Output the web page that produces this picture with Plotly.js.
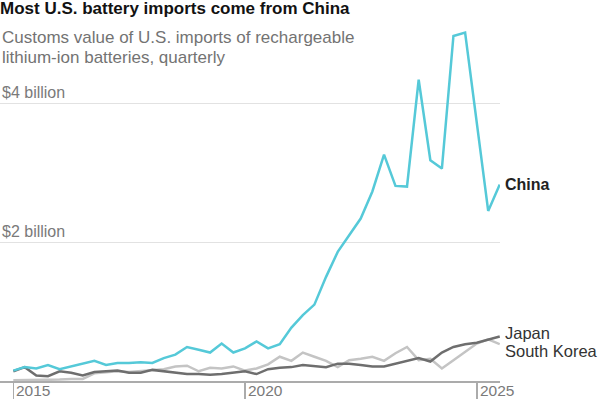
<!DOCTYPE html>
<html>
<head>
<meta charset="utf-8">
<script src="https://cdn.plot.ly/plotly-3.0.1.min.js"></script>
<style>
  html, body { margin: 0; padding: 0; background: #fff; }
  #chart { width: 600px; height: 399px; }
</style>
</head>
<body>
<div id="chart"></div>
<script>
// Quarterly periods (quarter start dates), 2015 Q1 – 2025 Q3
const quarters = [
  "2015-01-01","2015-04-01","2015-07-01","2015-10-01",
  "2016-01-01","2016-04-01","2016-07-01","2016-10-01",
  "2017-01-01","2017-04-01","2017-07-01","2017-10-01",
  "2018-01-01","2018-04-01","2018-07-01","2018-10-01",
  "2019-01-01","2019-04-01","2019-07-01","2019-10-01",
  "2020-01-01","2020-04-01","2020-07-01","2020-10-01",
  "2021-01-01","2021-04-01","2021-07-01","2021-10-01",
  "2022-01-01","2022-04-01","2022-07-01","2022-10-01",
  "2023-01-01","2023-04-01","2023-07-01","2023-10-01",
  "2024-01-01","2024-04-01","2024-07-01","2024-10-01",
  "2025-01-01","2025-04-01","2025-07-01"
];

// Customs value, billions of dollars
const china = [0.15,0.20,0.18,0.23,0.17,0.21,0.25,0.29,0.23,0.26,0.26,0.27,0.26,0.33,0.38,0.49,0.45,0.41,0.54,0.41,0.47,0.57,0.47,0.53,0.77,0.95,1.10,1.50,1.86,2.10,2.34,2.73,3.26,2.81,2.80,4.34,3.18,3.06,4.97,5.02,3.74,2.45,2.83];
const japan = [0.14,0.20,0.08,0.07,0.14,0.12,0.08,0.13,0.14,0.15,0.12,0.12,0.16,0.14,0.11,0.10,0.10,0.09,0.10,0.12,0.14,0.10,0.17,0.19,0.20,0.23,0.22,0.20,0.25,0.25,0.23,0.21,0.21,0.25,0.30,0.33,0.28,0.41,0.49,0.53,0.55,0.60,0.64];
const southKorea = [0.01,0.01,0.02,0.02,0.02,0.03,0.03,0.11,0.13,0.14,0.13,0.14,0.16,0.17,0.21,0.22,0.14,0.19,0.18,0.21,0.15,0.18,0.24,0.35,0.29,0.41,0.35,0.29,0.20,0.30,0.32,0.35,0.29,0.40,0.49,0.30,0.32,0.18,0.30,0.42,0.54,0.60,0.53];

const xTickVals = ["2015-01-01","2020-01-01","2025-01-01"];
const xTickText = ["2015","2020","2025"];
const yTickVals = [2, 4];
const yTickText = ["$2 billion","$4 billion"];

const seriesNames = ["South Korea","Japan","China"];
const seriesColors = ["#c4c4c4","#6e6e6e","#55c9d8"];

const FONT = "'Liberation Sans', Arial, sans-serif";

const traces = [southKorea, japan, china].map((vals, i) => ({
  x: quarters, y: vals, type: "scatter", mode: "lines",
  name: seriesNames[i],
  line: { color: seriesColors[i], width: 2.5, shape: "linear" },
  hoverinfo: "skip", cliponaxis: true
}));

const annotations = [];
// subtitle
annotations.push({
  text: "Customs value of U.S. imports of rechargeable",
  xref: "paper", yref: "paper", x: 0, y: (381 - 26) / 361,
  xanchor: "left", yanchor: "top", showarrow: false,
  font: { family: FONT, size: 17, color: "#737373" }
});
annotations.push({
  text: "lithium-ion batteries, quarterly",
  xref: "paper", yref: "paper", x: 0, y: (381 - 45.5) / 361,
  xanchor: "left", yanchor: "top", showarrow: false,
  font: { family: FONT, size: 17, color: "#737373" }
});
// y tick labels
yTickVals.forEach((v, i) => annotations.push({
  text: yTickText[i], xref: "paper", yref: "y", x: 0, y: v,
  xanchor: "left", yanchor: "bottom", yshift: 0, showarrow: false,
  font: { family: FONT, size: 16, color: "#7a7a7a" }
}));
// x tick labels
xTickVals.forEach((v, i) => annotations.push({
  text: xTickText[i], xref: "x", yref: "paper", x: v, y: 0,
  xanchor: "left", yanchor: "top", xshift: 1, yshift: 1, showarrow: false,
  font: { family: FONT, size: 15.5, color: "#7a7a7a" }
}));
// series labels at line ends
const last = quarters.length - 1;
annotations.push({
  text: "<b>China</b>", xref: "x", yref: "y", x: quarters[last], y: china[last],
  xanchor: "left", yanchor: "middle", xshift: 3, showarrow: false,
  font: { family: FONT, size: 16, color: "#222" }
});
annotations.push({
  text: "Japan", xref: "x", yref: "y", x: quarters[last], y: japan[last],
  xanchor: "left", yanchor: "middle", xshift: 3, yshift: 4, showarrow: false,
  font: { family: FONT, size: 16.5, color: "#333" }
});
annotations.push({
  text: "South Korea", xref: "x", yref: "y", x: quarters[last], y: southKorea[last],
  xanchor: "left", yanchor: "middle", xshift: 3, yshift: -7, showarrow: false,
  font: { family: FONT, size: 16.5, color: "#333" }
});

const layout = {
  width: 600, height: 399,
  margin: { l: 0, r: 100, t: 20, b: 18, pad: 0 },
  paper_bgcolor: "#fff", plot_bgcolor: "#fff",
  showlegend: false,
  title: {
    text: "<b>Most U.S. battery imports come from China</b>",
    font: { family: FONT, size: 17, color: "#121212" },
    x: 0, xref: "container", xanchor: "left",
    y: 1 - 2 / 399, yref: "container", yanchor: "top",
    pad: { t: 0, l: 0, r: 0, b: 0 }
  },
  xaxis: {
    type: "date", range: ["2014-09-18", "2025-07-03"],
    tickvals: xTickVals, showticklabels: false,
    ticks: "outside", ticklen: 18, tickwidth: 1.5, tickcolor: "#ababab",
    showline: true, linecolor: "#ababab", linewidth: 1.5,
    showgrid: false, zeroline: false, fixedrange: true
  },
  yaxis: {
    range: [0, 5.2], tickvals: yTickVals, showticklabels: false,
    showgrid: true, gridcolor: "#e2e2e2", gridwidth: 1,
    zeroline: false, ticks: "", fixedrange: true
  },
  annotations: annotations
};

Plotly.newPlot("chart", traces, layout, { staticPlot: true, displayModeBar: false });
</script>
</body>
</html>
